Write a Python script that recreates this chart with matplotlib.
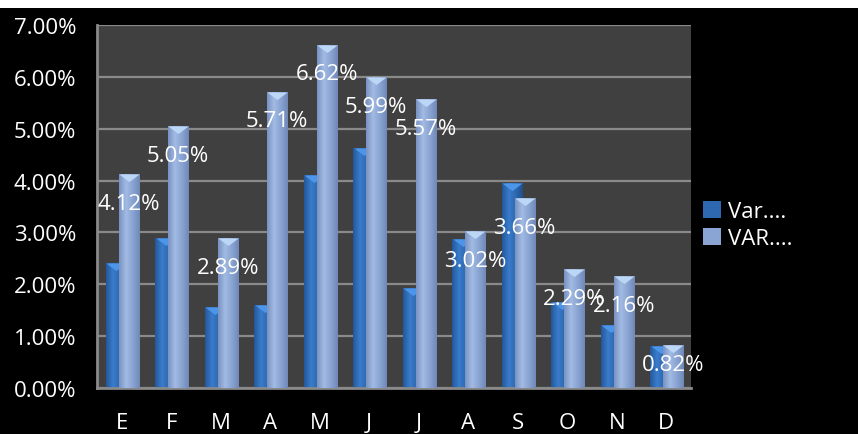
# Monthly variation chart, two series, black background
import numpy as np
import matplotlib
matplotlib.use("Agg")
import matplotlib.pyplot as plt
from matplotlib.colors import LinearSegmentedColormap
from matplotlib.path import Path
from matplotlib.patches import Rectangle

months = ["E", "F", "M", "A", "M", "J", "J", "A", "S", "O", "N", "D"]
var_small = [2.42, 2.90, 1.56, 1.60, 4.10, 4.63, 1.92, 2.88, 3.96, 1.65, 1.21, 0.81]
var_big = [4.12, 5.05, 2.89, 5.71, 6.62, 5.99, 5.57, 3.02, 3.66, 2.29, 2.16, 0.82]
series_names = ["Var....", "VAR...."]
yticks = [0, 1, 2, 3, 4, 5, 6, 7]

plt.rcParams['font.family'] = ['Open Sans', 'DejaVu Sans']

fig = plt.figure(figsize=(8.58, 4.35), dpi=100, facecolor="black")
fig.patches.append(Rectangle((0, 1 - 9 / 435), 1, 9 / 435, transform=fig.transFigure,
                             facecolor="white", edgecolor="none", zorder=0))
ax = fig.add_axes([97 / 858, 46 / 435, 594 / 858, 363 / 435])
ax.set_facecolor("#404040")

x = np.arange(len(months))
w = 0.41

dark_cmap = LinearSegmentedColormap.from_list("d", ["#23589c", "#3a7ccb", "#2d68b0", "#1f4f8c"])
light_cmap = LinearSegmentedColormap.from_list("l", ["#7892c2", "#a2bbe3", "#8aa4d3", "#6f88b8"])


def shade(bars, cmap, z):
    # paint a horizontal gradient inside each bar
    grad = np.linspace(0, 1, 64).reshape(1, -1)
    for b in bars:
        x0, y0 = b.get_x(), b.get_y()
        im = ax.imshow(grad, cmap=cmap, aspect="auto", zorder=z,
                       extent=[x0, x0 + b.get_width(), y0, y0 + b.get_height()])
        im.set_clip_path(b)


tri = Path([(-1, 0), (1, 0), (0, -0.75), (-1, 0)],
           [Path.MOVETO, Path.LINETO, Path.LINETO, Path.CLOSEPOLY])

b1 = ax.bar(x - 0.115, var_small, w, color="#2d68b0", zorder=2, label=series_names[0])
shade(b1, dark_cmap, 2.1)
ax.scatter(x - 0.115, var_small, marker=tri, s=210, color="#4c95e8", linewidths=0, zorder=2.2)

b2 = ax.bar(x + 0.14, var_big, w, color="#8aa4d3", zorder=3, label=series_names[1])
shade(b2, light_cmap, 3.1)
ax.scatter(x + 0.14, var_big, marker=tri, s=210, color="#bcd6f6", linewidths=0, zorder=3.2)

# labels sit a bit below the bar top, but never drop below the axis
for xi, v in zip(x, var_big):
    ax.text(xi + 0.14, max(v - 0.56, 0.46), f"{v:.2f}%", ha="center", va="center",
            color="white", fontsize=16, zorder=5)

ax.set_xlim(-0.5, 11.5)
ax.set_ylim(0, 7)
ax.set_yticks(yticks)
ax.set_yticklabels([f"{t:.2f}%" for t in yticks])
ax.set_xticks(x)
ax.set_xticklabels(months)
ax.tick_params(axis="y", length=0, pad=15, colors="white", labelsize=16)
ax.tick_params(axis="x", length=0, pad=17, colors="white", labelsize=16)
ax.yaxis.grid(True, color="#8a8a8a", lw=1.6, zorder=1)
ax.set_axisbelow(True)
for s in ["top", "right"]:
    ax.spines[s].set_visible(False)
for s in ["left", "bottom"]:
    ax.spines[s].set_color("#8a8a8a")
    ax.spines[s].set_linewidth(2)

leg = fig.legend(handles=[b1, b2], labels=series_names, loc="center left",
                 bbox_to_anchor=(692 / 858, 209 / 435), frameon=False, fontsize=16,
                 handlelength=0.8, handleheight=0.8, handletextpad=0.3, labelspacing=0.25,
                 borderpad=0)
for t in leg.get_texts():
    t.set_color("white")

fig.savefig("out.png", dpi=100, facecolor="black")
